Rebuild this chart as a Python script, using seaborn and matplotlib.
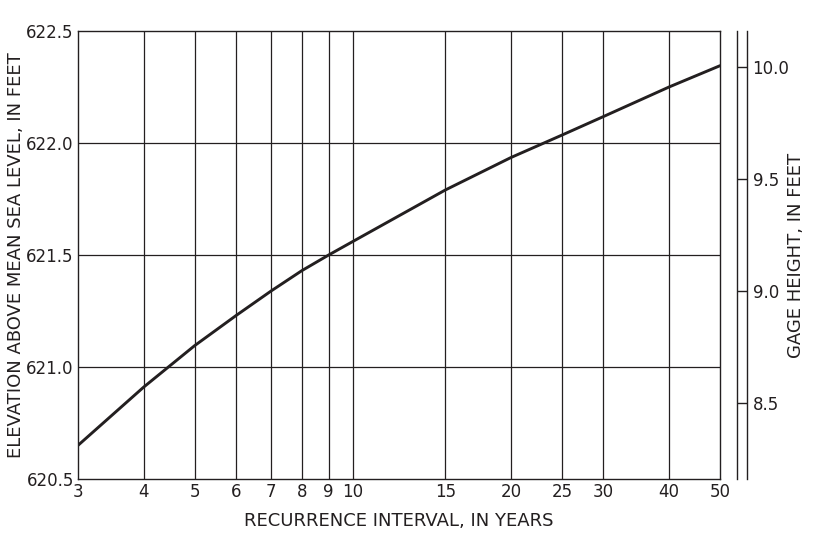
import numpy as np
import pandas as pd
import matplotlib
matplotlib.use("Agg")
import matplotlib.pyplot as plt
import seaborn as sns

# values
recurrence_years = [3, 4, 5, 6, 7, 8, 9, 10, 15, 20, 25, 30, 40, 50]
elevation_ft = [620.65, 620.91, 621.095, 621.23, 621.34, 621.43, 621.50,
                621.56, 621.79, 621.935, 622.035, 622.118, 622.25, 622.345]

x_ticks = [3, 4, 5, 6, 7, 8, 9, 10, 15, 20, 25, 30, 40, 50]
y_ticks = [620.5, 621.0, 621.5, 622.0, 622.5]
gage_ticks = [8.5, 9.0, 9.5, 10.0]
gage_datum = 612.34  # elevation of gage zero

sns.set_theme(style="white")
plt.rcParams['font.family'] = ['DejaVu Sans']

ink = "#231f20"
df = pd.DataFrame({"interval": recurrence_years, "elevation": elevation_ft})

fig = plt.figure(figsize=(8.26, 5.34), dpi=100)
fig.patch.set_facecolor("white")
ax = fig.add_axes([0.0944, 0.103, 0.7773, 0.839])

sns.lineplot(data=df, x="interval", y="elevation", ax=ax, color=ink, linewidth=2.1)

ax.set_xscale("log")
ax.set_xlim(3, 50)
ax.set_ylim(620.5, 622.5)
ax.set_xticks(x_ticks)
ax.set_xticklabels([str(t) for t in x_ticks])
ax.xaxis.set_minor_locator(matplotlib.ticker.NullLocator())
ax.set_yticks(y_ticks)
ax.set_yticklabels([f"{t:.1f}" for t in y_ticks])
ax.tick_params(axis="both", length=0, labelsize=12, colors=ink, pad=3)

for t in x_ticks[1:-1]:
    ax.axvline(t, color=ink, linewidth=0.9, zorder=0)
for t in y_ticks[1:-1]:
    ax.axhline(t, color=ink, linewidth=0.9, zorder=0)
for s in ax.spines.values():
    s.set_color(ink)
    s.set_linewidth(1.0)

ax.set_xlabel("RECURRENCE INTERVAL, IN YEARS", fontsize=13, color=ink, labelpad=8)
ax.set_ylabel("ELEVATION ABOVE MEAN SEA LEVEL, IN FEET", fontsize=13, color=ink, labelpad=1)

# gage height scale on the right, drawn as a double rule
ax2 = ax.twinx()
ax2.set_ylim(620.5 - gage_datum, 622.5 - gage_datum)
ax2.set_yticks(gage_ticks)
ax2.set_yticklabels([f"{t:.1f}" for t in gage_ticks])
for name in ["top", "bottom", "left"]:
    ax2.spines[name].set_visible(False)
ax2.spines["right"].set_position(("axes", 1.042))
ax2.spines["right"].set_color(ink)
ax2.spines["right"].set_linewidth(1.0)
ax2.tick_params(axis="y", direction="in", length=7.2, width=1.0, colors=ink,
                labelsize=12, pad=4)
ax2.set_ylabel("GAGE HEIGHT, IN FEET", fontsize=13, color=ink, labelpad=-1.5)

ax3 = ax.twinx()
ax3.set_ylim(ax2.get_ylim())
ax3.set_yticks([])
for name in ["top", "bottom", "left"]:
    ax3.spines[name].set_visible(False)
ax3.spines["right"].set_position(("axes", 1.0265))
ax3.spines["right"].set_color(ink)
ax3.spines["right"].set_linewidth(1.0)

fig.savefig("out.png", dpi=100, facecolor="white")
